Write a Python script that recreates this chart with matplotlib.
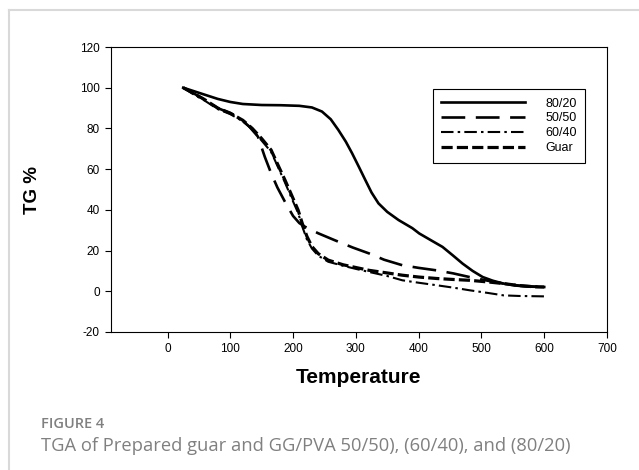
import matplotlib
matplotlib.use("Agg")
import matplotlib.pyplot as plt
from matplotlib.lines import Line2D

plt.rcParams['font.family'] = ['Liberation Sans', 'DejaVu Sans']
plt.rcParams['axes.unicode_minus'] = False

# TGA curves (temperature in C, weight %)
t_8020 = [25, 40, 60, 80, 100, 120, 150, 180, 210, 230, 246, 260, 272, 284, 294, 305, 315,
          325, 336, 350, 368, 390, 401, 420, 438, 455, 470, 486, 502, 518, 535, 555, 575, 600]
tg_8020 = [100, 98.5, 96.5, 94.5, 93, 92, 91.5, 91.4, 91.1, 90.3, 88.3, 84.5, 79.3, 73.5, 67.8, 61, 54.7,
           48.5, 43.2, 39, 35, 31, 28.4, 25, 21.8, 17.5, 13.6, 10, 7, 5.2, 3.8, 2.8, 2.3, 2.1]

t_5050 = [25, 40, 60, 80, 100, 115, 130, 144, 155, 165, 175, 187, 200, 210, 219, 240, 267, 295,
          321, 345, 374, 400, 428, 455, 481, 510, 535, 560, 585, 600]
tg_5050 = [100, 97.5, 94, 90, 87.5, 85, 81, 76, 66, 58, 51, 44, 37, 33.5, 31.7, 28.5, 25, 21.5,
           18.6, 15.5, 12.8, 11.5, 10.3, 8.8, 7, 5.2, 3.8, 2.8, 2.3, 2.2]

t_6040 = [25, 40, 60, 80, 100, 120, 135, 150, 165, 176, 187, 198, 208, 215, 222, 230, 240, 256,
          280, 300, 321, 350, 374, 400, 428, 455, 481, 510, 535, 560, 600]
tg_6040 = [100, 97, 93.5, 89.5, 87, 83.5, 79.5, 74, 68.5, 61, 53.5, 45.5, 38.5, 31.5, 25.5, 21, 17.5, 14.5,
           12.5, 11, 9.5, 7.5, 5.4, 4.2, 3, 1.8, 0.5, -0.8, -2, -2.3, -2.5]

t_guar = [25, 40, 60, 80, 100, 120, 135, 150, 165, 176, 187, 198, 208, 215, 222, 230, 240, 256,
          280, 321, 350, 374, 400, 428, 455, 481, 510, 535, 560, 585, 600]
tg_guar = [100, 97.5, 94, 90, 87.5, 84, 80, 75, 69.4, 62, 54.7, 47, 39.9, 33, 27, 22, 18.5, 15.3,
           13, 10.3, 9, 7.9, 7, 6.3, 5.8, 5.4, 4.6, 3.8, 2.8, 2.2, 2.1]

xticks = [0, 100, 200, 300, 400, 500, 600, 700]
yticks = [-20, 0, 20, 40, 60, 80, 100, 120]

fig = plt.figure(figsize=(6.39, 4.70), dpi=100)
ax = fig.add_axes([111 / 639, 1 - 332 / 470, (607 - 111) / 639, (332 - 47) / 470])

ax.plot(t_8020, tg_8020, color='black', lw=1.9, ls='-', label='80/20')
ax.plot(t_5050, tg_5050, color='black', lw=1.9, ls=(0, (9, 4)), label='50/50')
ax.plot(t_6040, tg_6040, color='black', lw=1.5, ls=(0, (6, 2, 1.2, 2)), label='60/40')
ax.plot(t_guar, tg_guar, color='black', lw=2.3, ls=(0, (3.5, 1.3)), label='Guar')

ax.set_xlim(-90, 700)
ax.set_ylim(-20, 120)
ax.set_xticks(xticks)
ax.set_yticks(yticks)
ax.tick_params(direction='out', length=4, width=0.8, labelsize=8.5, pad=4)
for s in ax.spines.values():
    s.set_linewidth(0.8)

ax.set_xlabel('Temperature', fontsize=15, fontweight='bold', labelpad=9)
ax.set_ylabel('TG %', fontsize=13.5, fontweight='bold', labelpad=28)

leg = ax.legend(loc='upper left', bbox_to_anchor=(0.636, 0.875), fontsize=9,
                handlelength=6.7, handletextpad=1.6, labelspacing=0.22,
                fancybox=False, framealpha=1, edgecolor='black', borderpad=0.7)
leg.get_frame().set_linewidth(0.8)

# light grey frame around the figure panel
fig.add_artist(Line2D([9 / 639, 9 / 639], [0, 1 - 10 / 470], color='#d9d9d9', lw=1.5))
fig.add_artist(Line2D([9 / 639, 1], [1 - 10 / 470, 1 - 10 / 470], color='#d9d9d9', lw=1.5))

fig.text(41 / 639, 1 - 424 / 470, 'FIGURE 4', fontsize=10.5, color='#808080',
         family=['Open Sans', 'DejaVu Sans'], fontweight='semibold', va='center')
fig.text(41 / 639, 1 - 446 / 470, 'TGA of Prepared guar and GG/PVA 50/50), (60/40), and (80/20)',
         fontsize=13.2, color='#808080', family=['Open Sans', 'DejaVu Sans'], va='center')

fig.savefig('out.png', dpi=100)
